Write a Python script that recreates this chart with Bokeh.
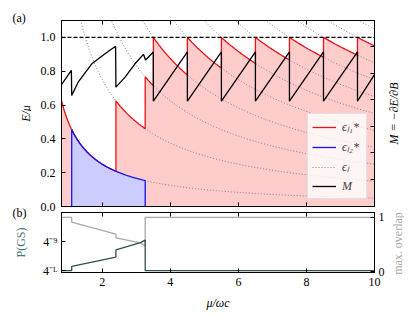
import math
import numpy as np
from bokeh.plotting import figure
from bokeh.models import (Range1d, LinearAxis, FixedTicker, Label, Legend,
                          LegendItem, Span)
from bokeh.layouts import column, row
from bokeh.embed import file_html
from bokeh.resources import INLINE

# ---------------- data ----------------
x_lo, x_hi = 0.8, 10.0
# Landau levels eps_l / mu = (l + 1/2) / (mu / omega_c)
level_index = [0, 1, 2, 3, 4, 5, 6, 7, 8, 9, 10]
# occupied level l1* (red) on each interval of mu/omega_c
red_seg_start = [0.8, 1.1, 2.4, 3.26, 3.5, 4.5, 5.5, 6.5, 7.5, 8.5, 9.5]
red_seg_end = [1.1, 2.4, 3.26, 3.5, 4.5, 5.5, 6.5, 7.5, 8.5, 9.5, 10.0]
red_seg_level = [0, 0, 1, 2, 3, 4, 5, 6, 7, 8, 9]
# second level l2* (blue)
blue_seg_start = [1.1]
blue_seg_end = [3.26]
blue_seg_level = [0]
# magnetisation M (drawn on the E/mu scale)
m_x = [0.8, 1.09, 1.1, 1.29, 1.69, 2.08, 2.39, 2.4, 2.67, 2.96, 3.21, 3.27,
       3.5, 3.5, 4.5, 4.5, 5.5, 5.5, 6.5, 6.5, 7.5, 7.5, 8.5, 8.5, 9.5, 9.5, 10.0]
m_y = [0.72, 0.805, 0.657, 0.735, 0.844, 0.903, 0.948, 0.706, 0.765, 0.844, 0.900, 0.866,
       0.914, 0.623, 0.914, 0.623, 0.914, 0.623, 0.914, 0.623, 0.914, 0.623, 0.914, 0.623,
       0.914, 0.623, 0.78]
ref_level = 1.0
# panel (b)
ov_x = [0.8, 1.1, 1.1, 1.75, 2.4, 2.4, 3.12, 3.26, 3.26, 10.0]
ov_y = [1.0, 1.0, 0.915, 0.80, 0.69, 0.62, 0.53, 0.47, 1.0, 1.0]
pgs_x = [0.8, 1.1, 1.1, 2.4, 2.4, 3.12, 3.26, 3.26, 10.0]
pgs_log4 = [-12.0, -12.0, -11.56, -10.6, -9.85, -9.1, -8.83, -12.0, -12.0]
pgs_ticks = [-12, -9]
pgs_tick_labels = ["4⁻ᴸ", "4⁻⁹"]
ov_ticks = [0, 1]
x_ticks = [2, 4, 6, 8, 10]
x_inner_ticks = [2, 4, 6, 8]
e_ticks = [0.0, 0.2, 0.4, 0.6, 0.8, 1.0]
m_ticks = [0.16, 0.317, 0.474, 0.631, 0.788, 0.945]

SERIF = "Liberation Serif"
RED, BLUE = "#ee1111", "#1111ee"
TEAL, GRAY = "#2f4f4f", "#a9a9a9"
PAD = 8                           # page margin (the Bokeh page itself has none)
LEFT_W, RIGHT_W = PAD + 23, 17    # side strips holding the outer texts
BL, BR = 30, 12                   # borders of the two panels
FW = 314                          # frame width
H1, H2 = PAD + 204, 100


def seg_curve(starts, ends, levels, n=40):
    xs, ys = [], []
    for a, b, l in zip(starts, ends, levels):
        xx = np.linspace(a, b, n)
        xs.extend(xx.tolist())
        ys.extend(((l + 0.5) / xx).tolist())
    return xs, ys


def style(ax, ticks, labels=True):
    ax.ticker = FixedTicker(ticks=ticks)
    ax.major_tick_in = 4
    ax.major_tick_out = 0
    ax.minor_tick_line_color = None
    ax.axis_line_color = "black"
    ax.major_tick_line_color = "black"
    ax.major_label_text_font = SERIF
    ax.major_label_text_font_size = "12px"
    ax.major_label_text_color = "black"
    ax.axis_label_text_font = SERIF
    ax.axis_label_text_font_size = "12px"
    ax.axis_label_text_font_style = "italic"
    ax.axis_label_text_color = "black"
    if not labels:
        ax.major_label_overrides = {t: "" for t in ticks}
        ax.major_label_standoff = -16


def txt(fig, x, y, text, angle=0.0, align="left", style_="normal", color="black"):
    fig.add_layout(Label(x=x, y=y, text=text, angle=angle, text_align=align,
                         text_baseline="middle", text_font=SERIF, text_font_size="12px",
                         text_font_style=style_, text_color=color))


def strip(width):
    f = figure(width=width, height=H1 + H2, x_range=Range1d(0, width),
               y_range=Range1d(H1 + H2, 0), output_backend="svg", toolbar_location=None,
               x_axis_location=None, y_axis_location=None, min_border=0)
    f.grid.grid_line_color = None
    f.outline_line_color = None
    f.background_fill_color = None
    f.border_fill_color = None
    return f


# ---------------- panel (a) ----------------
p1 = figure(width=BL + FW + BR, height=H1, x_range=Range1d(x_lo, x_hi), y_range=Range1d(0, 1.1),
            output_backend="svg", toolbar_location=None,
            x_axis_location=None, y_axis_location=None,
            min_border_left=BL, min_border_right=BR, min_border_top=PAD + 12, min_border_bottom=6)
p1.grid.grid_line_color = None
p1.outline_line_color = "black"
p1.background_fill_color = "white"

rx, ry = seg_curve(red_seg_start, red_seg_end, red_seg_level)
bx, by = seg_curve(blue_seg_start, blue_seg_end, blue_seg_level)

p1.patch([rx[0]] + rx + [rx[-1]], [0] + ry + [0], fill_color="#ffcccc", line_color=None)
p1.patch([bx[0]] + bx + [bx[-1]], [0] + by + [0], fill_color="#ccccff", line_color=None)

dx = np.linspace(x_lo, x_hi, 300)
dots = p1.multi_line([dx.tolist() for _ in level_index],
                     [((l + 0.5) / dx).tolist() for l in level_index],
                     line_color="gray", line_dash="1 2", line_width=1)
red_line = p1.line(rx, ry, line_color=RED, line_width=1.3)
blue_line = p1.line([bx[0]] + bx + [bx[-1]], [0] + by + [0], line_color=BLUE, line_width=1.3)
m_line = p1.line(m_x, m_y, line_color="black", line_width=1.3)
p1.add_layout(Span(location=ref_level, dimension="width", line_color="black",
                   line_dash="4 2", line_width=1.2))

axl = LinearAxis()
style(axl, e_ticks)
axl.major_label_standoff = 6
axl.major_label_overrides = {v: f"{v:.1f}" for v in e_ticks}
p1.add_layout(axl, "left")
axr = LinearAxis()
style(axr, m_ticks, labels=False)
p1.add_layout(axr, "right")
for loc in ("below", "above"):
    ax = LinearAxis()
    style(ax, x_inner_ticks, labels=False)
    p1.add_layout(ax, loc)

legend = Legend(items=[LegendItem(label="ϵₗ₁*", renderers=[red_line]),
                       LegendItem(label="ϵₗ₂*", renderers=[blue_line]),
                       LegendItem(label="ϵₗ", renderers=[dots]),
                       LegendItem(label="M", renderers=[m_line])],
                location="bottom_right")
legend.margin = 7
legend.padding = 4
legend.spacing = 3
legend.glyph_width = 24
legend.glyph_height = 16
legend.label_height = 16
legend.label_standoff = 6
legend.label_text_font = SERIF
legend.label_text_font_size = "12px"
legend.label_text_font_style = "italic"
legend.background_fill_alpha = 0.8
legend.border_line_color = "#cccccc"
p1.add_layout(legend, "center")

# ---------------- panel (b) ----------------
p2 = figure(width=BL + FW + BR, height=H2, x_range=p1.x_range, y_range=Range1d(-12.2, -5.96),
            output_backend="svg", toolbar_location=None,
            x_axis_location=None, y_axis_location=None,
            min_border_left=BL, min_border_right=BR, min_border_top=0, min_border_bottom=39)
p2.extra_y_ranges = {"ov": Range1d(-0.018, 1.091)}
p2.grid.grid_line_color = None
p2.outline_line_color = "black"

p2.line(ov_x, ov_y, y_range_name="ov", line_color=GRAY, line_width=1.3)
p2.line(pgs_x, pgs_log4, line_color=TEAL, line_width=1.3)

bl = LinearAxis()
style(bl, pgs_ticks)
bl.major_label_overrides = dict(zip(pgs_ticks, pgs_tick_labels))
bl.major_label_standoff = 4
p2.add_layout(bl, "left")
br = LinearAxis(y_range_name="ov")
style(br, ov_ticks)
br.major_label_standoff = 4
p2.add_layout(br, "right")
bb = LinearAxis(axis_label="μ/ωc")
style(bb, x_ticks)
bb.major_label_standoff = 5
bb.axis_label_standoff = 7
p2.add_layout(bb, "below")
ba = LinearAxis()
style(ba, x_inner_ticks, labels=False)
p2.add_layout(ba, "above")

# ---------------- outer texts (side strips, pixel coordinates) ----------------
qL = strip(LEFT_W)
txt(qL, 12, 17, "(a)")
txt(qL, 25, 113, "E/μ", angle=math.pi / 2, align="center", style_="italic")
txt(qL, 12, 212, "(b)")
txt(qL, 20, 242, "P(GS)", angle=math.pi / 2, align="center", color="#467a72")

qR = strip(RIGHT_W)
txt(qR, 6, 113, "M = −∂E/∂B", angle=math.pi / 2, align="center", style_="italic")
txt(qR, 10, 243, "max. overlap", angle=math.pi / 2, align="center", color=GRAY)

layout = row(qL, column(p1, p2, spacing=0), qR, spacing=0)
open("out.html", "w").write(file_html(layout, INLINE))
